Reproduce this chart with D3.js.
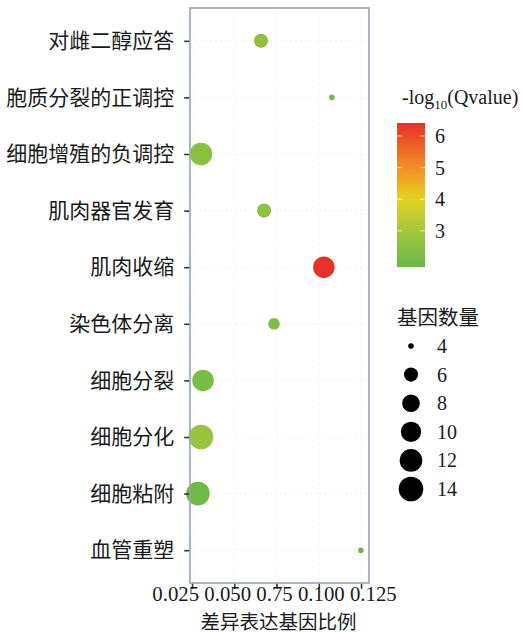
<!DOCTYPE html>
<html>
<head>
	<meta charset="utf-8">
	<title>GO bubble chart</title>
	<style>
		body {
			margin: 0;
			background: #fff;
		}
		.cjk {
			font-family: "Noto Sans CJK SC", sans-serif;
			fill: #1a1a1a;
		}
		.num {
			font-family: "Liberation Serif", "DejaVu Serif", serif;
			fill: #1a1a1a;
		}
	</style>
</head>
<body>
	<div id="chart"></div>

	<script src="https://cdn.jsdelivr.net/npm/d3@7"></script>
	<script>
	// Data
	var terms      = ["对雌二醇应答", "胞质分裂的正调控", "细胞增殖的负调控", "肌肉器官发育", "肌肉收缩",
	                  "染色体分离", "细胞分裂", "细胞分化", "细胞粘附", "血管重塑"]
	var ratios     = [0.0658, 0.1077, 0.0303, 0.0676, 0.1030, 0.0735, 0.0315, 0.0303, 0.0285, 0.1249]
	var geneCounts = [6, 4, 12, 6, 11, 5, 11, 14, 13, 4]
	var negLogQ    = [2.6, 2.1, 2.5, 2.6, 6.41, 2.3, 2.2, 2.8, 2.0, 1.86]

	var xTicks      = [0.025, 0.050, 0.075, 0.100, 0.125]
	var xTickLabels = ["0.025", "0.050", "0.75", "0.100", "0.125"]
	var colorTicks  = [3, 4, 5, 6]
	var sizeTicks   = [4, 6, 8, 10, 12, 14]

	// Layout (note: "top" is reserved on window, so prefix everything)
	var width     = 522,
		height    = 635,
		panelL    = 190,
		panelR    = 369,
		panelT    = 8,
		panelB    = 583

	var svg = d3.select("#chart").append("svg")
		.attr("width", width)
		.attr("height", height)

	// Scales
	var x = d3.scaleLinear().domain([0.0238, 0.1297]).range([panelL, panelR])
	var y = d3.scalePoint().domain(terms).range([panelT, panelB]).padding(0.58)

	var qMin = d3.min(negLogQ), qMax = d3.max(negLogQ)
	var color = d3.scaleLinear()
		.domain([qMin, 3.0, 4.0, 5.0, qMax])
		.range(["#68b846", "#a3c83b", "#e4d320", "#f28f22", "#e8312a"])
		.interpolate(d3.interpolateRgb)

	// area-style size mapping (radius grows with sqrt of rescaled count)
	var sizeT = d3.scaleLinear().domain([4, 14]).range([0, 1])
	var radius = function(v){
		return 2.8 + (12.3 - 2.8) * Math.sqrt(sizeT(v))
	}

	// Faint grid
	var grid = svg.append("g").attr("stroke", "#edf1f5").attr("stroke-width", 1)
		.attr("stroke-dasharray", "2,3")
	grid.selectAll(".gx").data(xTicks).enter().append("line")
		.attr("x1", function(d){ return x(d) }).attr("x2", function(d){ return x(d) })
		.attr("y1", panelT).attr("y2", panelB)
	grid.selectAll(".gy").data(terms).enter().append("line")
		.attr("x1", panelL).attr("x2", panelR)
		.attr("y1", function(d){ return y(d) }).attr("y2", function(d){ return y(d) })

	// Points
	var rows = terms.map(function(t, i){
		return { term: t, ratio: ratios[i], count: geneCounts[i], q: negLogQ[i] }
	})
	svg.append("g").selectAll("circle").data(rows).enter().append("circle")
		.attr("cx", function(d){ return x(d.ratio) })
		.attr("cy", function(d){ return y(d.term) })
		.attr("r", function(d){ return radius(d.count) })
		.attr("fill", function(d){ return color(d.q) })

	// Panel border
	svg.append("rect")
		.attr("x", panelL).attr("y", panelT)
		.attr("width", panelR - panelL).attr("height", panelB - panelT)
		.attr("fill", "none").attr("stroke", "#98a5b3").attr("stroke-width", 1.6)

	// Y axis
	var yAxis = svg.append("g")
		.attr("transform", "translate(" + (panelL - 0.8) + ",0)")
		.call(d3.axisLeft(y).tickSize(5).tickPadding(10))
	yAxis.select(".domain").remove()
	yAxis.selectAll(".tick line").attr("stroke", "#333").attr("stroke-width", 1.6)
	yAxis.selectAll(".tick text")
		.attr("class", "cjk").attr("font-size", 21).attr("font-family", null).attr("fill", "#1a1a1a")

	// X axis: tick marks from the axis, labels set as one run of text as in the figure
	var xAxis = svg.append("g")
		.attr("transform", "translate(0," + (panelB + 0.8) + ")")
		.call(d3.axisBottom(x).tickValues(xTicks).tickSize(5).tickFormat(""))
	xAxis.select(".domain").remove()
	xAxis.selectAll(".tick line").attr("stroke", "#333").attr("stroke-width", 1.6)

	svg.append("text").attr("class", "num")
		.attr("x", x(xTicks[2]) - 2).attr("y", 601)
		.attr("text-anchor", "middle").attr("font-size", 20.8)
		.text(xTickLabels.join(" "))

	svg.append("text").attr("class", "cjk")
		.attr("x", (panelL + panelR) / 2 - 1).attr("y", 629)
		.attr("text-anchor", "middle").attr("font-size", 19.5)
		.text("差异表达基因比例")

	// Colour legend
	var cbX = 397, cbW = 28, cbTop = 123, cbBottom = 267
	var cby = d3.scaleLinear().domain([qMin, qMax]).range([cbBottom, cbTop])

	var title = svg.append("text").attr("class", "num")
		.attr("x", 402).attr("y", 104).attr("font-size", 20)
	title.append("tspan").text("-log")
	title.append("tspan").attr("font-size", 13).attr("dy", 5).text("10")
	title.append("tspan").attr("dy", -5).text("(Qvalue)")

	var defs = svg.append("defs")
	var grad = defs.append("linearGradient").attr("id", "qgrad")
		.attr("x1", 0).attr("y1", 1).attr("x2", 0).attr("y2", 0)
	d3.range(0, 1.0001, 0.05).forEach(function(t){
		grad.append("stop").attr("offset", t)
			.attr("stop-color", color(qMin + t * (qMax - qMin)))
	})
	svg.append("rect")
		.attr("x", cbX).attr("y", cbTop).attr("width", cbW).attr("height", cbBottom - cbTop)
		.attr("fill", "url(#qgrad)")

	var cTicks = svg.append("g")
	cTicks.selectAll(".l").data(colorTicks).enter().append("line")
		.attr("x1", cbX).attr("x2", cbX + 5)
		.attr("y1", function(d){ return cby(d) }).attr("y2", function(d){ return cby(d) })
		.attr("stroke", "#fff").attr("stroke-opacity", 0.7)
	cTicks.selectAll(".r").data(colorTicks).enter().append("line")
		.attr("x1", cbX + cbW - 5).attr("x2", cbX + cbW)
		.attr("y1", function(d){ return cby(d) }).attr("y2", function(d){ return cby(d) })
		.attr("stroke", "#fff").attr("stroke-opacity", 0.7)
	cTicks.selectAll("text").data(colorTicks).enter().append("text")
		.attr("class", "num").attr("font-size", 20)
		.attr("x", 435).attr("y", function(d){ return cby(d) })
		.attr("dy", "0.35em")
		.text(function(d){ return d })

	// Size legend
	svg.append("text").attr("class", "cjk")
		.attr("x", 397).attr("y", 325).attr("font-size", 20.5)
		.text("基因数量")

	var sy = d3.scalePoint().domain(sizeTicks).range([346, 489])
	var sizeLegend = svg.append("g").selectAll("g").data(sizeTicks).enter().append("g")
		.attr("transform", function(d){ return "translate(411," + sy(d) + ")" })
	sizeLegend.append("circle")
		.attr("r", function(d){ return radius(d) })
		.attr("fill", "#000")
	sizeLegend.append("text").attr("class", "num")
		.attr("x", 26).attr("dy", "0.35em").attr("font-size", 20)
		.text(function(d){ return d })
	</script>
</body>
</html>
